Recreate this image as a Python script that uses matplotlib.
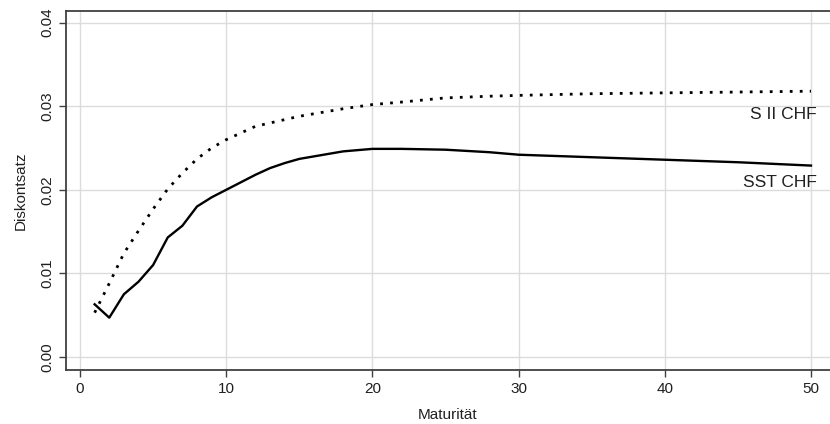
import matplotlib
matplotlib.use("Agg")
import matplotlib.pyplot as plt

plt.rcParams['font.family'] = ['Liberation Sans', 'DejaVu Sans']

# Maturität (Jahre)
maturity = [1, 2, 3, 4, 5, 6, 7, 8, 9, 10, 11, 12, 13, 14, 15, 16,
            18, 20, 22, 25, 28, 30, 35, 40, 45, 50]
# Diskontsätze
sst_chf = [0.0063, 0.0047, 0.0075, 0.0090, 0.0110, 0.0143, 0.0157, 0.0180,
           0.0191, 0.0200, 0.0209, 0.0218, 0.0226, 0.0232, 0.0237, 0.0240,
           0.0246, 0.0249, 0.0249, 0.0248, 0.0245, 0.0242, 0.0239, 0.0236,
           0.0233, 0.0229]
s2_chf = [0.0053, 0.0088, 0.0124, 0.0151, 0.0177, 0.0201, 0.0220, 0.0237,
          0.0250, 0.0260, 0.0268, 0.0276, 0.0280, 0.0284, 0.0288, 0.0291,
          0.0297, 0.0302, 0.0305, 0.0310, 0.0312, 0.0313, 0.0315, 0.0316,
          0.0317, 0.0318]

xticks = [0, 10, 20, 30, 40, 50]
yticks = [0.00, 0.01, 0.02, 0.03, 0.04]

fig = plt.figure(figsize=(8.3, 4.24), dpi=100)
ax = fig.add_axes([0.0795, 0.1274, 0.9205, 0.8467])

ax.plot(maturity, s2_chf, color='black', lw=2.0, linestyle=(0, (1, 2.6)))
ax.plot(maturity, sst_chf, color='black', lw=1.7)

# Kurvenbeschriftung
ax.text(50.4, 0.0290, "S II CHF", ha='right', va='center', fontsize=12.5,
        color='#202020')
ax.text(50.4, 0.0209, "SST CHF", ha='right', va='center', fontsize=12.5,
        color='#202020')

ax.set_xlim(-0.96, 51.3)
ax.set_ylim(-0.00156, 0.0414)
ax.set_xticks(xticks)
ax.set_yticks(yticks)
ax.set_yticklabels([f"{v:.2f}" for v in yticks], rotation=90, va='center')
ax.tick_params(axis='both', labelsize=11, length=5, width=1, color='#404040',
               labelcolor='#202020')
ax.grid(True, color='#dcdcdc', lw=1)
ax.set_axisbelow(True)

for side in ['left', 'bottom', 'top']:
    ax.spines[side].set_color('#404040')
    ax.spines[side].set_linewidth(1.3)
ax.spines['right'].set_visible(False)

ax.set_xlabel("Maturität", fontsize=11, labelpad=9, color='#202020')
ax.set_ylabel("Diskontsatz", fontsize=11, labelpad=9, color='#202020')

fig.savefig("out.png", dpi=100)
